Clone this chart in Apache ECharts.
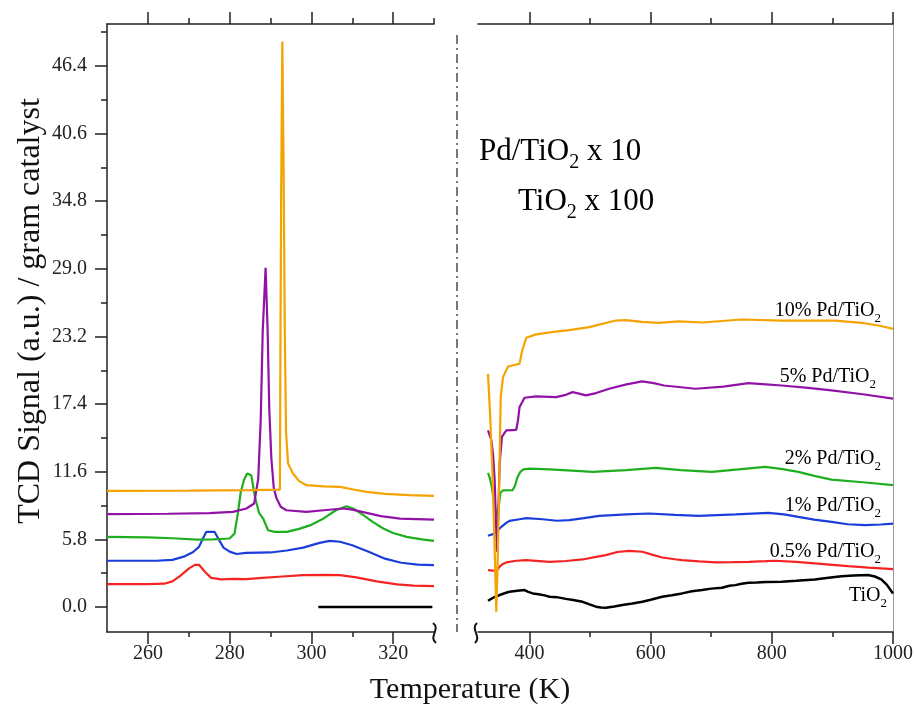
<!DOCTYPE html>
<html>
<head>
<meta charset="utf-8">
<script src="https://cdn.jsdelivr.net/npm/echarts@6/dist/echarts.min.js"></script>
<style>
  html, body { margin: 0; padding: 0; background: #fff; }
  #chart { width: 916px; height: 708px; }
</style>
</head>
<body>
<div id="chart"></div>
<script>
// 左图 250-330 K，[温度, 信号]
var left05 = [[250,1.97],[260,1.97],[264,2.0],[266,2.2],[268,2.7],[270,3.3],[271.5,3.62],[272.5,3.62],[274,3.0],[275.5,2.5],[278,2.38],[281,2.42],[284,2.4],[288,2.5],[292,2.6],[298,2.74],[303,2.76],[307,2.74],[311,2.55],[316,2.2],[321,1.95],[325,1.83],[330,1.8]];
var left1 = [[250,3.97],[262,3.97],[266,4.05],[269,4.35],[271,4.7],[272.5,5.16],[273.5,5.9],[274.3,6.45],[276.3,6.45],[277.5,5.7],[278.5,5.1],[280,4.75],[281.7,4.55],[284,4.65],[290,4.68],[294,4.85],[298,5.1],[302,5.5],[304.5,5.68],[307,5.6],[310,5.3],[314,4.75],[318,4.15],[322,3.8],[326,3.63],[330,3.6]];
var left2 = [[250,6.02],[260,5.98],[266,5.9],[272,5.79],[276,5.8],[280,5.88],[281.2,6.3],[282,8.0],[282.7,9.8],[283.5,10.9],[284.3,11.45],[285.3,11.3],[286.2,9.44],[287.2,8.07],[288.2,7.59],[289.4,6.59],[291,6.45],[294,6.45],[297,6.7],[300,7.05],[303,7.6],[306,8.3],[308.6,8.65],[310.5,8.4],[312.7,7.88],[315,7.3],[317.6,6.74],[320,6.35],[323.3,6.02],[327,5.8],[330,5.68]];
var left5 = [[250,7.96],[265,8.0],[275,8.05],[280.8,8.16],[284.1,8.45],[286,8.88],[287,11],[287.6,16],[288.1,23.7],[288.8,29.1],[289.3,23.7],[289.7,17],[290.2,12.8],[290.8,10.2],[291.5,9.3],[292.5,8.6],[293.9,8.3],[298.8,8.16],[303,8.3],[307.8,8.45],[310,8.35],[313.5,8.07],[317,7.8],[321.7,7.59],[330,7.5]];
var left10 = [[250,9.96],[270,9.98],[285,10.02],[292.3,10.07],[292.4,20],[292.6,35],[292.9,48.5],[293.2,38],[293.5,23.7],[293.8,15],[294.3,12.3],[295.5,11.45],[297,10.8],[298.8,10.45],[303,10.35],[307,10.3],[310,10.1],[313.5,9.87],[318,9.7],[324,9.6],[330,9.53]];
var leftTiO2 = [[301.7,0],[329.6,0]];

// 右图 315-1000 K
var rightTiO2 = [[331.5,0.54],[340,0.8],[350.7,1.03],[360,1.2],[367,1.31],[380,1.4],[391.8,1.46],[398,1.3],[405.5,1.17],[415,1.1],[425,1.0],[432.9,0.88],[445,0.85],[460,0.7],[472,0.6],[487.6,0.45],[498,0.25],[509.6,0.03],[518,-0.04],[526,-0.06],[540,0.05],[553.3,0.17],[570,0.3],[586.2,0.45],[600,0.62],[619,0.88],[635,1.02],[651.9,1.17],[668,1.35],[684.8,1.46],[700,1.58],[717.7,1.65],[730,1.82],[739.6,1.88],[750,2.0],[761.5,2.08],[775,2.1],[790,2.15],[816.3,2.17],[840,2.25],[871.1,2.37],[890,2.5],[914.9,2.65],[935,2.7],[958.7,2.74],[970,2.62],[980.6,2.37],[990,1.9],[1000,1.17]];
var right05 = [[331.5,3.17],[340,3.12],[346,3.1],[350.7,3.46],[356,3.7],[361.7,3.83],[378,3.97],[394.6,4.03],[432.9,3.88],[460,3.95],[487.6,4.08],[510,4.3],[526,4.45],[545,4.72],[564.3,4.82],[586.2,4.74],[605,4.45],[619,4.25],[640,4.1],[651.9,4.02],[680,3.92],[706.8,3.83],[735,3.85],[761.5,3.88],[790,3.93],[805.4,3.97],[840,3.88],[871.1,3.74],[900,3.62],[925.9,3.51],[960,3.38],[1000,3.25]];
var right1 = [[331.5,6.12],[339.7,6.25],[347.9,6.59],[353.5,6.88],[361.6,7.22],[367,7.39],[383.6,7.53],[394.6,7.62],[422,7.53],[445,7.4],[465.7,7.45],[490,7.62],[515,7.82],[560,7.95],[597.2,8.02],[640,7.9],[679.4,7.82],[740,7.95],[794.4,8.08],[820,7.95],[843.7,7.73],[870,7.5],[898.5,7.3],[925,7.1],[953.3,7.02],[980,7.08],[1000,7.16]];
var right2 = [[331.5,11.5],[335,11.0],[338,10.2],[341,9.2],[344,8.3],[346.5,7.8],[349,8.6],[352,9.8],[356,10.0],[372,10.02],[376,10.4],[380,11.1],[385,11.6],[390,11.8],[400,11.87],[432.9,11.8],[470,11.7],[504,11.59],[560,11.75],[608.2,11.93],[650,11.75],[701.3,11.59],[745,11.8],[789,12.02],[815,11.85],[843.7,11.59],[870,11.25],[898.5,10.93],[950,10.7],[1000,10.45]];
var right5 = [[331.5,15.15],[337.1,14.3],[340,13],[342.5,10.87],[344.5,7.5],[346.4,4.74],[348.5,8],[350.7,12.3],[354.5,14.6],[361.7,15.15],[378.1,15.2],[381,16],[383.6,17.15],[391.8,17.95],[411,18.07],[443.9,18.0],[460,18.2],[471.2,18.43],[482,18.3],[493.2,18.15],[510,18.35],[531.5,18.72],[560,19.1],[586.2,19.35],[605,19.2],[622,19.0],[650,18.85],[674,18.72],[720,18.9],[761.5,19.2],[790,19.1],[816.3,19.0],[860,18.8],[898.5,18.58],[950,18.25],[1000,17.87]];
var right10 = [[331.5,20.0],[335,16.5],[338.5,12],[342,6],[345.2,-0.4],[347.5,4],[349.6,9.44],[352.5,18.0],[356.3,19.72],[364.5,20.63],[383.6,20.86],[386,21.5],[388,22.0],[394.6,23.09],[411,23.38],[440,23.6],[465.7,23.75],[498.6,24.0],[542.5,24.57],[558.9,24.6],[585,24.45],[613.6,24.37],[646.5,24.5],[684.8,24.4],[750.5,24.66],[816.3,24.57],[904,24.57],[953.3,24.34],[980,24.1],[1000,23.86]];

// 刻度
var yMajor = [0, 5.8, 11.6, 17.4, 23.2, 29.0, 34.8, 40.6, 46.4];
var yMinor = [2.9, 8.7, 14.5, 20.3, 26.1, 31.9, 37.7, 43.5, 49.3];
var leftMajor = [260, 280, 300, 320];
var leftMinor = [270, 290, 310, 330];
var rightMajor = [400, 600, 800, 1000];
var rightMinor = [500, 700, 900];

var FONT = 'Liberation Serif';
var YMIN = -2.14, YMAX = 50;

function xAx(grid, min, max, pos, ticks, len, labels, lineShow) {
  return {
    type: 'value', gridIndex: grid, min: min, max: max, position: pos,
    axisLine: { show: lineShow, onZero: false, lineStyle: { color: '#222', width: 1.5 } },
    axisTick: { show: true, inside: false, length: len, customValues: ticks, lineStyle: { color: '#222', width: 1.5 } },
    axisLabel: labels ? {
      show: true, customValues: ticks, margin: 12, fontSize: 20, color: '#222', fontFamily: FONT,
      formatter: function (v) { return String(v); }
    } : { show: false },
    splitLine: { show: false }
  };
}

function line(name, data, color, xi, yi, w) {
  return {
    name: name, type: 'line', xAxisIndex: xi, yAxisIndex: yi, data: data,
    showSymbol: false, symbol: 'none', smooth: false, animation: false,
    lineStyle: { color: color, width: w || 2.2 }, itemStyle: { color: color }
  };
}

var cOrange = '#F5A300', cPurple = '#9212A8', cGreen = '#1FAE1F', cBlue = '#1B3EDB', cRed = '#F52424', cBlack = '#000';

var rich = {
  n: { fontFamily: FONT, fontSize: 20, color: '#111' },
  s: { fontFamily: FONT, fontSize: 13, color: '#111', padding: [16, 0, 0, 0] },
  N: { fontFamily: FONT, fontSize: 31, color: '#111' },
  S: { fontFamily: FONT, fontSize: 20, color: '#111', padding: [22, 0, 0, 0] }
};

function lbl(text, x, y, align) {
  return {
    type: 'text', x: x, y: y,
    style: { text: text, rich: rich, align: align, verticalAlign: 'middle' }
  };
}

var chart = echarts.init(document.getElementById('chart'));
chart.setOption({
  backgroundColor: '#fff',
  animation: false,
  grid: [
    { left: 107, top: 24, width: 327, height: 608 },
    { left: 478, top: 24, width: 417, height: 608 }
  ],
  xAxis: [
    xAx(0, 250, 330, 'bottom', leftMajor, 12, true, true),
    xAx(0, 250, 330, 'bottom', [270, 290, 310], 5, false, false),
    xAx(0, 250, 330, 'top', leftMajor, 12, false, true),
    xAx(0, 250, 330, 'top', leftMinor, 6, false, false),
    xAx(1, 315, 1000, 'bottom', rightMajor, 12, true, true),
    xAx(1, 315, 1000, 'bottom', rightMinor, 5, false, false),
    xAx(1, 315, 1000, 'top', rightMajor, 12, false, true),
    xAx(1, 315, 1000, 'top', rightMinor, 6, false, false)
  ],
  yAxis: [
    {
      type: 'value', gridIndex: 0, min: YMIN, max: YMAX, position: 'left',
      axisLine: { show: true, onZero: false, lineStyle: { color: '#222', width: 1.5 } },
      axisTick: { show: true, length: 12, customValues: yMajor, lineStyle: { color: '#222', width: 1.5 } },
      axisLabel: {
        customValues: yMajor, margin: 20, fontSize: 20, color: '#222', fontFamily: FONT,
        formatter: function (v) { return v.toFixed(1); }
      },
      splitLine: { show: false }
    },
    {
      type: 'value', gridIndex: 0, min: YMIN, max: YMAX, position: 'left',
      axisLine: { show: false, onZero: false },
      axisTick: { show: true, length: 6, customValues: yMinor, lineStyle: { color: '#222', width: 1.5 } },
      axisLabel: { show: false }, splitLine: { show: false }
    },
    {
      type: 'value', gridIndex: 1, min: YMIN, max: YMAX, position: 'right',
      axisLine: { show: true, onZero: false, lineStyle: { color: '#999', width: 1 } },
      axisTick: { show: false }, axisLabel: { show: false }, splitLine: { show: false }
    }
  ],
  series: [
    line('0.5% Pd/TiO2', left05, cRed, 0, 0),
    line('1% Pd/TiO2', left1, cBlue, 0, 0),
    line('2% Pd/TiO2', left2, cGreen, 0, 0),
    line('5% Pd/TiO2', left5, cPurple, 0, 0),
    line('10% Pd/TiO2', left10, cOrange, 0, 0),
    line('TiO2', leftTiO2, cBlack, 0, 0, 2.5),
    line('TiO2', rightTiO2, cBlack, 4, 2, 2.5),
    line('0.5% Pd/TiO2', right05, cRed, 4, 2),
    line('1% Pd/TiO2', right1, cBlue, 4, 2),
    line('2% Pd/TiO2', right2, cGreen, 4, 2),
    line('5% Pd/TiO2', right5, cPurple, 4, 2),
    line('10% Pd/TiO2', right10, cOrange, 4, 2)
  ],
  graphic: [
    // 断轴分隔线
    { type: 'line', shape: { x1: 457, y1: 35, x2: 457, y2: 632 },
      style: { stroke: '#777', lineWidth: 2, lineDash: [9, 4, 2, 4] } },
    { type: 'bezierCurve', shape: { x1: 433, y1: 623, cpx1: 441, cpy1: 629, cpx2: 428, cpy2: 637, x2: 436, y2: 643 },
      style: { stroke: '#111', lineWidth: 2, fill: null } },
    { type: 'bezierCurve', shape: { x1: 477, y1: 623, cpx1: 470, cpy1: 629, cpx2: 482, cpy2: 637, x2: 475, y2: 643 },
      style: { stroke: '#111', lineWidth: 2, fill: null } },
    { type: 'text', x: 31, y: 311, rotation: Math.PI / 2,
      style: { text: 'TCD Signal (a.u.) / gram catalyst', font: '32px "Liberation Serif"', fill: '#111', align: 'center', verticalAlign: 'middle' } },
    { type: 'text', x: 470, y: 690,
      style: { text: 'Temperature (K)', font: '30px "Liberation Serif"', fill: '#111', align: 'center', verticalAlign: 'middle' } },
    lbl('{N|Pd/TiO}{S|2}{N| x 10}', 479, 152, 'left'),
    lbl('{N|TiO}{S|2}{N| x 100}', 518, 202, 'left'),
    lbl('{n|10% Pd/TiO}{s|2}', 881, 311, 'right'),
    lbl('{n|5% Pd/TiO}{s|2}', 876, 377, 'right'),
    lbl('{n|2% Pd/TiO}{s|2}', 881, 459, 'right'),
    lbl('{n|1% Pd/TiO}{s|2}', 881, 506, 'right'),
    lbl('{n|0.5% Pd/TiO}{s|2}', 881, 552, 'right'),
    lbl('{n|TiO}{s|2}', 887, 596, 'right')
  ]
});
</script>
</body>
</html>
